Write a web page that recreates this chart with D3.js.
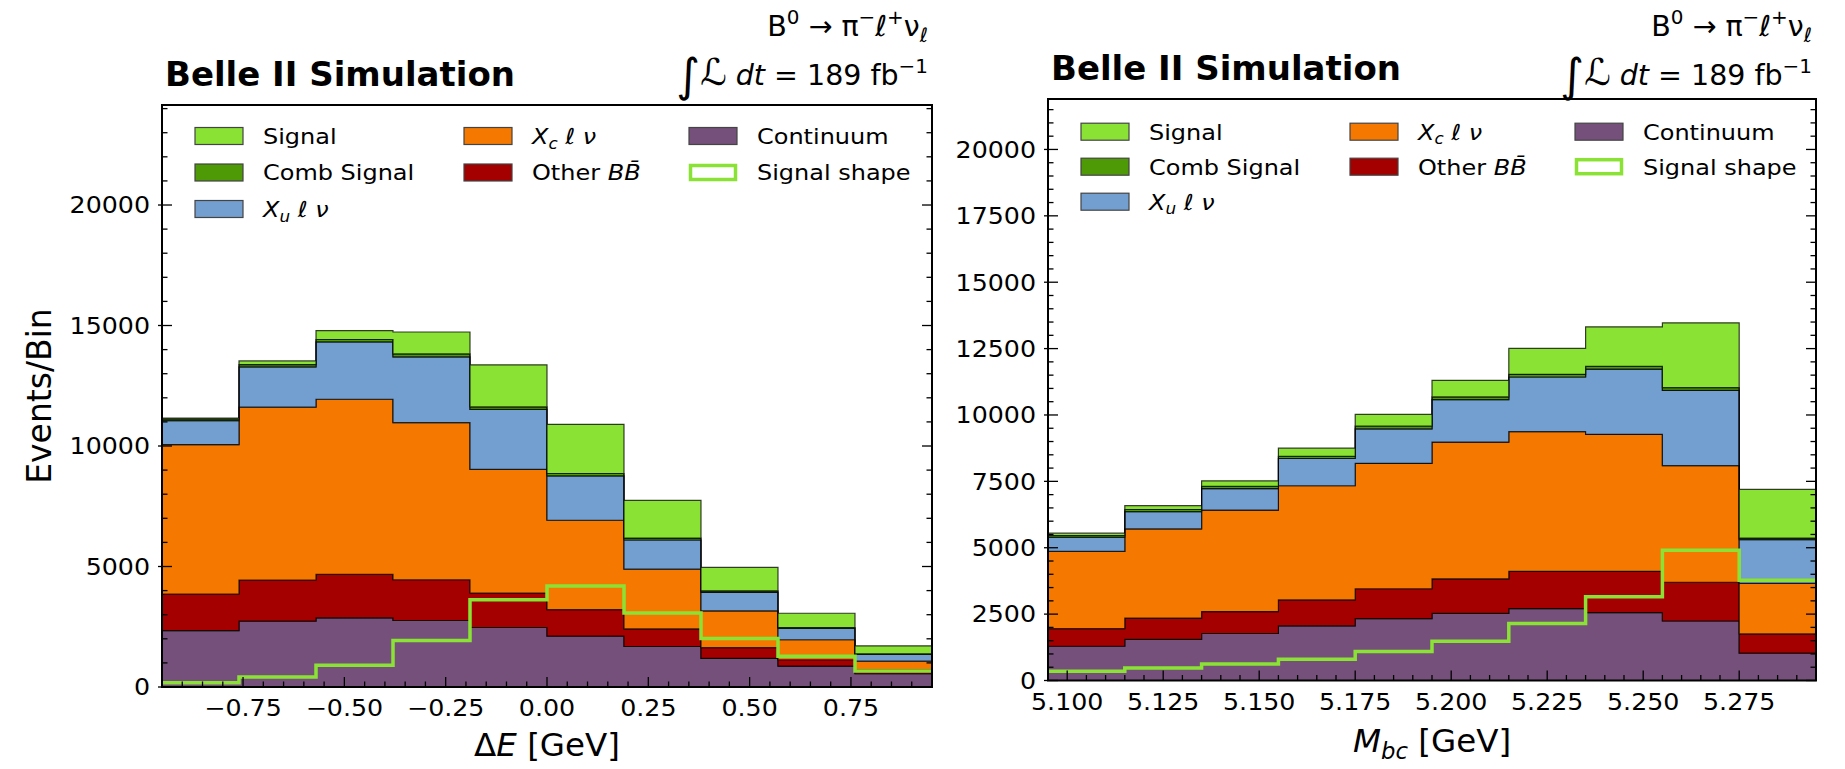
<!DOCTYPE html>
<html>
<head>
<meta charset="utf-8">
<script src="https://cdn.jsdelivr.net/npm/d3@7"></script>
<style>
  html, body { margin: 0; padding: 0; background: #fff; }
  svg { display: block; }
  text { font-family: "DejaVu Sans", sans-serif; fill: #000; }
</style>
</head>
<body>
<svg id="chart" width="1845" height="769"></svg>
<script>
// ---------------- data ----------------
const deEdges  = [-0.95, -0.76, -0.57, -0.38, -0.19, 0.00, 0.19, 0.38, 0.57, 0.76, 0.95];
const mbcEdges = [5.095, 5.115, 5.135, 5.155, 5.175, 5.195, 5.215, 5.235, 5.255, 5.275, 5.295];

const seriesNames = ["Continuum", "Other BB", "Xc l nu", "Xu l nu", "Comb Signal", "Signal"];

// Delta E panel (stack order bottom -> top)
const deContinuum = [2340, 2730, 2870, 2760, 2470, 2110, 1680, 1190, 870, 550];
const deOtherBB   = [1520, 1710, 1800, 1690, 1430, 1100, 730, 440, 260, 170];
const deXc        = [6200, 7170, 7270, 6520, 5130, 3710, 2480, 1530, 830, 350];
const deXu        = [990, 1670, 2380, 2730, 2490, 1840, 1210, 770, 470, 280];
const deComb      = [60, 100, 100, 120, 100, 100, 80, 60, 40, 30];
const deSignal    = [50, 150, 370, 910, 1750, 2040, 1560, 970, 590, 330];
const deShape     = [180, 410, 900, 1930, 3620, 4190, 3070, 2010, 1280, 660];

// Mbc panel
const mbcContinuum = [1290, 1550, 1770, 2060, 2330, 2530, 2710, 2560, 2240, 1030];
const mbcOtherBB   = [660, 800, 825, 975, 1125, 1300, 1400, 1550, 1460, 725];
const mbcXc        = [2910, 3360, 3825, 4300, 4725, 5150, 5260, 5160, 4390, 1900];
const mbcXu        = [540, 650, 810, 1025, 1300, 1600, 2060, 2460, 2840, 1650];
const mbcComb      = [60, 80, 80, 80, 100, 100, 100, 100, 100, 60];
const mbcSignal    = [90, 145, 210, 310, 440, 625, 975, 1490, 2440, 1830];
const mbcShape     = [345, 470, 620, 805, 1095, 1480, 2145, 3155, 4905, 3780];

// ticks
const deXMajor  = [-0.75, -0.50, -0.25, 0.00, 0.25, 0.50, 0.75];
const mbcXMajor = [5.100, 5.125, 5.150, 5.175, 5.200, 5.225, 5.250, 5.275];
const deYMajor  = [0, 5000, 10000, 15000, 20000];
const mbcYMajor = [0, 2500, 5000, 7500, 10000, 12500, 15000, 17500, 20000];

// ---------------- style ----------------
const colors = {
  "Signal": "#8ae234",
  "Comb Signal": "#4e9a06",
  "Xu l nu": "#729fcf",
  "Xc l nu": "#f57900",
  "Other BB": "#a40000",
  "Continuum": "#75507b",
  "Signal shape": "#8ae234"
};
const SX = 1.1;           // slight horizontal text stretch seen in the reference

const svg = d3.select("#chart");

function stext(parent, x, y, anchor, size, weight, sx) {
  return parent.append("text")
    .attr("transform", `translate(${x},${y}) scale(${sx === undefined ? SX : sx},1)`)
    .attr("text-anchor", anchor)
    .style("font-size", size + "px")
    .style("font-weight", weight || "normal");
}
// parts: {t, i(italic), pos:'sup'|'sub', s(scale), dy(absolute baseline offset)}
function rich(textSel, size, parts) {
  let cur = 0;
  parts.forEach(p => {
    let target = 0, fs = size * (p.s || 1);
    if (p.pos === "sup") { target = -0.42 * size; fs = size * 0.7; }
    if (p.pos === "sub") { target = 0.22 * size; fs = size * 0.7; }
    if (p.dy !== undefined) target = p.dy;
    textSel.append("tspan").text(p.t)
      .attr("dy", target - cur)
      .style("font-size", fs + "px")
      .style("font-style", p.i ? "italic" : "normal");
    cur = target;
  });
  return textSel;
}

const legendItems = [
  { name: "Signal", col: 0, row: 0, parts: [{ t: "Signal" }] },
  { name: "Comb Signal", col: 0, row: 1, parts: [{ t: "Comb Signal" }] },
  { name: "Xu l nu", col: 0, row: 2, parts: [{ t: "X", i: 1 }, { t: "u", i: 1, pos: "sub" }, { t: " ℓ ν", i: 1 }] },
  { name: "Xc l nu", col: 1, row: 0, parts: [{ t: "X", i: 1 }, { t: "c", i: 1, pos: "sub" }, { t: " ℓ ν", i: 1 }] },
  { name: "Other BB", col: 1, row: 1, parts: [{ t: "Other " }, { t: "B", i: 1 }, { t: "B\u0304", i: 1 }] },
  { name: "Continuum", col: 2, row: 0, parts: [{ t: "Continuum" }] },
  { name: "Signal shape", col: 2, row: 1, parts: [{ t: "Signal shape" }], outline: true }
];

const panels = [
  {
    x0: 162, x1: 932, y0: 105, y1: 687, ymax: 24150,
    edges: deEdges,
    layers: [deContinuum, deOtherBB, deXc, deXu, deComb, deSignal],
    shape: deShape,
    xMajor: deXMajor, xMinorStep: 0.05, xFmt: d3.format(".2f"),
    yMajor: deYMajor, yMinorStep: 1000,
    xlabel: [{ t: "Δ" }, { t: "E", i: 1 }, { t: " [GeV]" }],
    xlabelY: 756,
    ylabel: "Events/Bin",
    legTop: 31, legStep: 36.5
  },
  {
    x0: 1048, x1: 1816, y0: 99, y1: 680.5, ymax: 21900,
    edges: mbcEdges,
    layers: [mbcContinuum, mbcOtherBB, mbcXc, mbcXu, mbcComb, mbcSignal],
    shape: mbcShape,
    xMajor: mbcXMajor, xMinorStep: 0.005, xFmt: d3.format(".3f"),
    yMajor: mbcYMajor, yMinorStep: 500,
    xlabel: [{ t: "M", i: 1 }, { t: "bc", i: 1, pos: "sub" }, { t: " [GeV]", dy: 0 }],
    xlabelY: 752,
    ylabel: null,
    legTop: 32.7, legStep: 35
  }
];

panels.forEach((P, pi) => {
  const g = svg.append("g");
  const x = d3.scaleLinear().domain([P.edges[0], P.edges[P.edges.length - 1]]).range([P.x0, P.x1]);
  const y = d3.scaleLinear().domain([0, P.ymax]).range([P.y1, P.y0]);
  const n = P.edges.length - 1;

  const clipId = "clip" + pi;
  svg.append("clipPath").attr("id", clipId).append("rect")
    .attr("x", P.x0).attr("y", P.y0).attr("width", P.x1 - P.x0).attr("height", P.y1 - P.y0);
  const plot = g.append("g").attr("clip-path", `url(#${clipId})`);

  // stacked step histograms
  const cum = new Array(n).fill(0);
  P.layers.forEach((vals, k) => {
    const pts = P.edges.map((e, i) => {
      const j = Math.min(i, n - 1);
      return { x: e, lo: cum[j], hi: cum[j] + vals[j] };
    });
    const area = d3.area().curve(d3.curveStepAfter)
      .x(d => x(d.x)).y0(d => y(d.lo)).y1(d => y(d.hi));
    plot.append("path").attr("d", area(pts))
      .attr("fill", colors[seriesNames[k]])
      .attr("stroke", "#000").attr("stroke-opacity", 0.75).attr("stroke-width", 1.2);
    for (let i = 0; i < n; i++) cum[i] += vals[i];
  });

  // signal shape outline
  const spts = P.edges.map((e, i) => ({ x: e, v: P.shape[Math.min(i, n - 1)] }));
  const line = d3.line().curve(d3.curveStepAfter).x(d => x(d.x)).y(d => y(d.v));
  plot.append("path").attr("d", line(spts)).attr("fill", "none")
    .attr("stroke", colors["Signal shape"]).attr("stroke-width", 3.5);

  // ticks
  const tk = g.append("g").attr("stroke", "#000");
  const xMin = P.edges[0], xMax = P.edges[n];
  const xMinor = d3.range(Math.ceil(xMin / P.xMinorStep - 1e-6), Math.floor(xMax / P.xMinorStep + 1e-6) + 1)
    .map(k => +(k * P.xMinorStep).toFixed(4));
  xMinor.forEach(v => {
    const isMaj = P.xMajor.some(m => Math.abs(m - v) < 1e-6);
    const L = isMaj ? 10 : 5.5;
    tk.append("line").attr("x1", x(v)).attr("x2", x(v)).attr("y1", P.y1).attr("y2", P.y1 - L).attr("stroke-width", 1.3);
  });
  const yMinor = d3.range(0, P.ymax + 1, P.yMinorStep);
  yMinor.forEach(v => {
    const isMaj = P.yMajor.includes(v);
    if (isMaj) {
      tk.append("line").attr("x1", P.x0 - 4).attr("x2", P.x0 + 10).attr("y1", y(v)).attr("y2", y(v)).attr("stroke-width", 1.3);
      tk.append("line").attr("x1", P.x1 - 10).attr("x2", P.x1).attr("y1", y(v)).attr("y2", y(v)).attr("stroke-width", 1.3);
    } else {
      tk.append("line").attr("x1", P.x0).attr("x2", P.x0 + 5.5).attr("y1", y(v)).attr("y2", y(v)).attr("stroke-width", 1.3);
      tk.append("line").attr("x1", P.x1 - 5.5).attr("x2", P.x1).attr("y1", y(v)).attr("y2", y(v)).attr("stroke-width", 1.3);
    }
  });

  // tick labels
  P.xMajor.forEach(v => {
    stext(g, x(v), P.y1 + 29, "middle", 23).text(P.xFmt(v));
  });
  P.yMajor.forEach(v => {
    stext(g, P.x0 - 12, y(v) + 8.3, "end", 23).text(d3.format("d")(v));
  });

  // frame
  g.append("rect").attr("x", P.x0).attr("y", P.y0).attr("width", P.x1 - P.x0).attr("height", P.y1 - P.y0)
    .attr("fill", "none").attr("stroke", "#000").attr("stroke-width", 2);

  // axis labels
  rich(stext(g, (P.x0 + P.x1) / 2, P.xlabelY, "middle", 32.5, "normal", 1), 32.5, P.xlabel);
  if (P.ylabel) {
    g.append("text")
      .attr("transform", `translate(51,${(P.y0 + P.y1) / 2}) rotate(-90)`)
      .attr("text-anchor", "middle").style("font-size", "33px").text(P.ylabel);
  }

  // title and annotations
  stext(g, P.x0 + 3, P.y0 - 19, "start", 33, "bold", 1.03).text("Belle II Simulation");
  rich(stext(g, P.x1 - 4, 36, "end", 28.5, "normal", 1), 28.5, [
    { t: "B" }, { t: "0", pos: "sup" }, { t: " → π", dy: 0 }, { t: "−", pos: "sup" },
    { t: "ℓ", dy: 0 }, { t: "+", pos: "sup" }, { t: "ν", dy: 0 }, { t: "ℓ", pos: "sub" }
  ]);
  rich(stext(g, P.x1 - 4, 85, "end", 28.5, "normal", 1), 28.5, [
    { t: "∫", s: 1.6, dy: 6 }, { t: "ℒ", s: 1.3, dy: 0 }, { t: " " }, { t: "dt", i: 1 }, { t: " = 189 fb" },
    { t: "−1", pos: "sup" }
  ]);

  // legend
  const colX = [33, 302, 527];
  legendItems.forEach(it => {
    const sx = P.x0 + colX[it.col];
    const cy = P.y0 + P.legTop + it.row * P.legStep;
    if (it.outline) {
      g.append("rect").attr("x", sx + 1.5).attr("y", cy - 7).attr("width", 45).attr("height", 14)
        .attr("fill", "#fff").attr("stroke", colors[it.name]).attr("stroke-width", 3.5);
    } else {
      g.append("rect").attr("x", sx).attr("y", cy - 8.5).attr("width", 48).attr("height", 17)
        .attr("fill", colors[it.name]).attr("stroke", "#444").attr("stroke-width", 1.2);
    }
    rich(stext(g, sx + 68, cy + 7.9, "start", 21.8), 21.8, it.parts);
  });
});
</script>
</body>
</html>
